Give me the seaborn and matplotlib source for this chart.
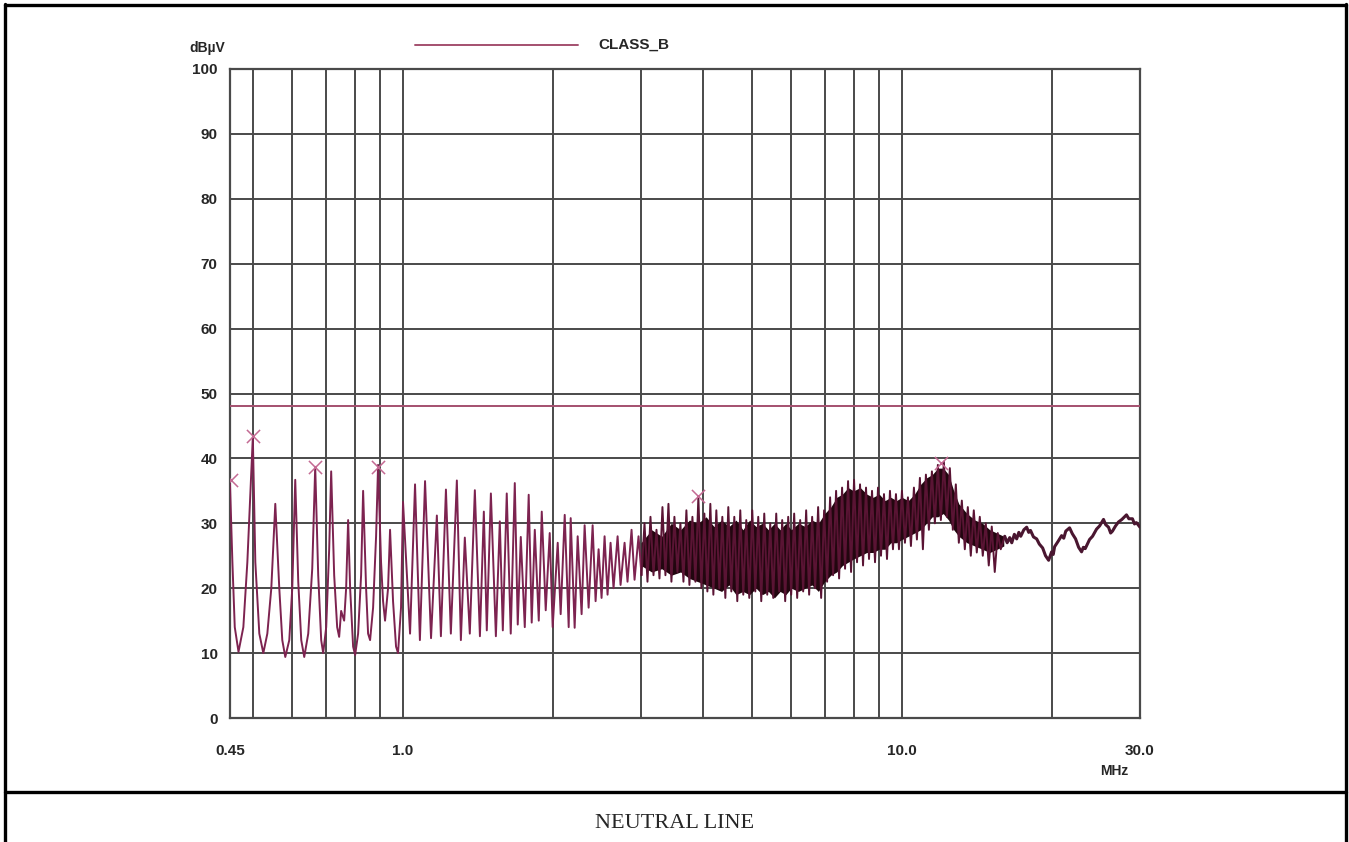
import matplotlib
matplotlib.use("Agg")
import matplotlib.pyplot as plt
from matplotlib.lines import Line2D
import pandas as pd
import seaborn as sns

# ── trace: 0.45 - 3 MHz (separate peaks) ───────────────────────────────────
freq_low = [0.450, 0.455, 0.460, 0.468, 0.4786, 0.4875, 0.500, 0.5058, 0.5152,
            0.5248, 0.5346, 0.5445, 0.5546, 0.5649, 0.5728, 0.5808, 0.5916,
            0.5998, 0.6081, 0.6166, 0.6252, 0.6339, 0.6457, 0.6577, 0.6668,
            0.6761, 0.6855, 0.6918, 0.7015, 0.7112, 0.7178, 0.7278, 0.7379,
            0.7447, 0.7516, 0.7621, 0.7691, 0.7762, 0.7834, 0.7943, 0.8017,
            0.8128, 0.8241, 0.8318, 0.8433, 0.8511, 0.8590, 0.8710, 0.8831,
            0.8913, 0.9036, 0.9120, 0.9204, 0.9333, 0.9419, 0.9550, 0.9683,
            0.9772, 0.9908, 1.000,
            1.033, 1.057, 1.081, 1.107, 1.138, 1.169, 1.191, 1.219, 1.247,
            1.282, 1.306, 1.330, 1.361, 1.393, 1.426, 1.452, 1.472, 1.500,
            1.535, 1.563, 1.585, 1.614, 1.644, 1.675, 1.698, 1.722, 1.754,
            1.786, 1.811, 1.837, 1.871, 1.897, 1.932, 1.968, 1.995, 2.042,
            2.070, 2.109, 2.148, 2.168, 2.208, 2.239, 2.280, 2.312, 2.355,
            2.399, 2.432, 2.466, 2.500, 2.535, 2.570, 2.606, 2.642, 2.692,
            2.729, 2.780, 2.818, 2.871, 2.911, 2.965, 3.006]
level_low = [36.0, 24.0, 14.0, 10.2, 14.0, 24.0, 43.3, 24.0, 13.0,
             10.0, 13.0, 20.0, 33.0, 20.0, 12.0, 9.4, 12.0,
             20.0, 36.7, 21.0, 12.0, 9.4, 13.0, 23.0, 38.7,
             22.0, 12.0, 10.0, 14.0, 26.0, 38.0, 22.0, 14.0,
             12.5, 16.5, 15.0, 20.0, 30.5, 20.0, 11.0, 9.7,
             13.0, 22.0, 35.0, 20.0, 13.0, 12.0, 17.0, 28.0,
             39.0, 24.0, 18.0, 15.0, 20.0, 29.0, 18.0, 11.0,
             10.0, 17.0, 33.3,
             13.0, 36.0, 12.0, 36.5, 12.3, 31.2, 12.6, 35.2, 13.0,
             36.6, 12.0, 27.8, 13.0, 35.1, 12.6, 31.8, 13.5, 34.6,
             12.6, 30.3, 13.5, 34.6, 13.0, 36.2, 14.4, 27.9, 14.0,
             34.4, 14.7, 29.0, 15.0, 31.8, 16.6, 28.5, 14.0, 27.0,
             16.0, 31.3, 14.0, 30.8, 13.9, 28.0, 16.0, 29.7, 17.0,
             29.7, 18.0, 26.0, 18.5, 28.0, 19.0, 27.0, 20.0, 28.0,
             20.5, 27.0, 21.0, 29.0, 21.3, 28.0, 22.0]

# ── 3 - 16 MHz (dense part, spikes) ─────────────────────────────────────────
freq_mid = [3.006, 3.048, 3.090, 3.133, 3.177, 3.221, 3.266, 3.311, 3.357, 3.404,
            3.451, 3.499, 3.548, 3.597, 3.648, 3.698, 3.750, 3.802, 3.855,
            3.908, 3.963, 4.018, 4.074, 4.130, 4.188, 4.246, 4.305, 4.365,
            4.426, 4.487, 4.550, 4.613, 4.677, 4.742, 4.808, 4.875, 4.943,
            5.012, 5.082, 5.152, 5.224, 5.297, 5.370, 5.445, 5.521, 5.598,
            5.675, 5.754, 5.834, 5.916, 5.998, 6.081, 6.166, 6.252, 6.339,
            6.427, 6.516, 6.607, 6.699, 6.792, 6.887, 6.982, 7.079, 7.178,
            7.278, 7.379, 7.482, 7.586, 7.691, 7.798, 7.907, 8.017, 8.128,
            8.241, 8.356, 8.472, 8.590, 8.710, 8.831, 8.954, 9.078, 9.204,
            9.333, 9.462, 9.594, 9.727, 9.863, 10.000, 10.139, 10.280, 10.423,
            10.568, 10.715, 10.864, 11.015, 11.169, 11.324, 11.482, 11.641,
            11.803, 11.967, 12.134, 12.303, 12.474, 12.647, 12.823, 13.002,
            13.183, 13.366, 13.552, 13.740, 13.932, 14.125, 14.322, 14.521,
            14.723, 14.928, 15.136, 15.346, 15.560, 15.776, 16.069]
level_mid = [22.0, 30.0, 21.0, 31.0, 22.0, 29.0, 21.5, 32.5, 22.0, 33.0,
             21.0, 31.0, 22.5, 30.0, 21.0, 32.0, 20.5, 31.0, 21.0,
             34.0, 20.0, 31.5, 19.5, 33.0, 19.0, 32.0, 20.0, 31.0,
             18.5, 32.5, 19.5, 31.0, 18.0, 32.0, 19.0, 30.5, 18.5,
             32.0, 19.5, 31.0, 18.0, 31.5, 19.0, 30.0, 18.5, 31.5,
             19.5, 30.5, 18.0, 31.0, 19.0, 31.5, 18.5, 30.5, 19.5,
             32.0, 19.0, 31.0, 20.0, 32.5, 18.5, 32.0, 21.0, 34.0,
             22.0, 35.0, 21.5, 35.5, 23.0, 36.5, 22.5, 36.7, 24.0,
             36.0, 23.5, 35.5, 24.5, 35.0, 24.0, 35.5, 25.0, 34.5,
             24.5, 35.0, 26.0, 34.5, 26.0, 35.0, 27.0, 34.0, 26.5,
             35.5, 27.5, 37.0, 26.0, 37.5, 29.0, 38.0, 30.0,
             39.0, 30.5, 39.5, 31.0, 38.5, 29.0, 36.0, 27.0,
             33.5, 26.0, 32.5, 25.0, 32.0, 25.5, 31.0, 25.0,
             30.0, 23.5, 29.5, 22.5, 28.5, 26.0, 28.0]

# ── 16 - 30 MHz (tail) ──────────────────────────────────────────────────────
freq_tail = [16.069, 16.25, 16.444, 16.6, 16.8, 16.982, 17.15, 17.3, 17.55,
             17.783, 17.95, 18.1, 18.35, 18.621, 18.85, 19.143, 19.4, 19.679,
             19.95, 20.1, 20.23, 20.55, 20.893, 21.1, 21.3, 21.677, 21.95,
             22.284, 22.6, 22.909, 23.1, 23.3, 23.768, 24.1, 24.547, 24.9,
             25.351, 25.6, 25.942, 26.2, 26.424, 26.8, 27.164, 27.6, 28.184,
             28.5, 28.973, 29.25, 29.512, 30.0]
level_tail = [28.0, 27.0, 27.8, 27.0, 28.3, 27.6, 28.6, 28.0, 29.0,
              29.4, 28.6, 28.9, 27.9, 27.6, 26.8, 26.2, 25.0, 24.3,
              25.6, 25.2, 26.4, 27.2, 28.1, 27.7, 28.8, 29.3, 28.4,
              27.6, 26.3, 25.6, 26.3, 26.1, 27.5, 28.0, 29.1, 29.6,
              30.6, 29.8, 29.4, 28.5, 28.8, 29.6, 30.2, 30.6, 31.3,
              30.7, 30.7, 29.9, 30.1, 29.4]

# dark core of the dense part
band_freq = [3.0, 3.15, 3.3, 3.45, 3.6, 3.75, 3.9, 4.05, 4.2, 4.35, 4.5,
             4.65, 4.8, 4.95, 5.1, 5.25, 5.4, 5.55, 5.7, 5.85, 6.0, 6.2,
             6.4, 6.6, 6.8, 7.0, 7.2, 7.4, 7.6, 7.8, 8.0, 8.25, 8.5, 8.75,
             9.0, 9.25, 9.5, 9.75, 10.0, 10.3, 10.6, 10.9, 11.2, 11.5, 11.8,
             12.1, 12.4, 12.7, 13.0, 13.5, 14.0, 14.5, 15.0, 15.5, 16.0]
band_top = [27.0, 29.0, 28.0, 30.0, 29.0, 30.5, 30.0, 31.0, 29.5, 30.5, 29.5,
            30.5, 29.0, 30.5, 29.5, 30.0, 29.0, 30.0, 29.0, 30.0, 29.0, 30.0,
            29.5, 30.5, 30.0, 31.5, 32.5, 34.0, 34.5, 35.5, 35.0, 35.5, 34.5,
            34.0, 34.5, 33.5, 34.0, 33.5, 34.0, 33.5, 34.5, 36.0, 37.0, 37.5,
            38.5, 38.5, 37.5, 35.0, 33.0, 31.5, 30.5, 30.0, 29.0, 28.5, 28.0]
band_bottom = [23.5, 22.5, 23.0, 22.0, 22.5, 21.5, 21.0, 20.5, 20.0, 19.5,
               20.5, 19.0, 19.5, 19.0, 20.0, 19.0, 19.5, 18.5, 19.5, 19.0,
               20.0, 19.5, 20.0, 20.5, 19.5, 21.0, 22.0, 22.5, 23.5, 24.0,
               24.5, 25.0, 25.5, 25.5, 26.0, 26.0, 27.0, 27.0, 27.5, 28.0,
               28.5, 29.0, 30.0, 31.0, 31.0, 31.5, 30.5, 29.0, 28.0, 27.0,
               26.5, 26.0, 25.5, 26.0, 26.5]

limit_freq = [0.45, 30.0]
limit_level = [48.0, 48.0]

peak_freq = [0.452, 0.500, 0.667, 0.891, 3.90, 11.95]
peak_level = [36.7, 43.4, 38.6, 38.6, 34.2, 39.3]

y_ticks = list(range(0, 101, 10))
x_ticks = [0.45, 1.0, 10.0, 30.0]
x_tick_labels = ["0.45", "1.0", "10.0", "30.0"]
grid_freqs = [0.5, 0.6, 0.7, 0.8, 0.9, 2, 3, 4, 5, 6, 7, 8, 9, 20]

TRACE = "#7d2350"
DENSE = "#5a1434"
CORE = "#22060f"
TAIL = "#4a1630"
LIMIT = "#a4506f"
MARK = "#c46a93"
GRID = "#4a4a4a"

sns.set_style("white")
plt.rcParams["font.family"] = ["Liberation Sans", "DejaVu Sans"]

low = pd.DataFrame({"freq": freq_low, "level": level_low})
mid = pd.DataFrame({"freq": freq_mid, "level": level_mid})
tail = pd.DataFrame({"freq": freq_tail, "level": level_tail})

fig = plt.figure(figsize=(13.49, 8.42), dpi=100)
ax = fig.add_axes([230 / 1349, 1 - 718 / 842, 910 / 1349, 649 / 842])
ax.set_xscale("log")

ax.fill_between(band_freq, band_bottom, band_top, color=CORE, lw=0, zorder=2)
sns.lineplot(data=low, x="freq", y="level", sort=False, estimator=None,
             color=TRACE, linewidth=1.4, ax=ax, zorder=3)
sns.lineplot(data=mid, x="freq", y="level", sort=False, estimator=None,
             color=DENSE, linewidth=1.4, ax=ax, zorder=3)
sns.lineplot(data=tail, x="freq", y="level", sort=False, estimator=None,
             color=TAIL, linewidth=2.2, ax=ax, zorder=3)
sns.lineplot(x=limit_freq, y=limit_level, color=LIMIT, linewidth=1.4,
             ax=ax, zorder=3)
sns.scatterplot(x=peak_freq, y=peak_level, marker="x", s=90, color=MARK,
                linewidth=1.1, ax=ax, zorder=4)

ax.set_xlim(0.45, 30)
ax.set_ylim(0, 100)
ax.set_xticks(x_ticks)
ax.set_xticklabels(x_tick_labels)
ax.set_xticks(grid_freqs, minor=True)
ax.set_xticklabels([], minor=True)
ax.set_yticks(y_ticks)
ax.set_yticklabels([str(v) for v in y_ticks])
ax.set_xlabel("")
ax.set_ylabel("")

ax.set_axisbelow(True)
ax.grid(True, which="both", color=GRID, linewidth=1.4)
ax.tick_params(axis="x", which="major", direction="out", length=8, width=1.4,
               color=GRID, pad=11, labelsize=11)
ax.tick_params(axis="x", which="minor", length=0)
ax.tick_params(axis="y", length=0, pad=9, labelsize=11)
for lab in ax.get_xticklabels() + ax.get_yticklabels():
    lab.set_fontweight("bold")
for sp in ax.spines.values():
    sp.set_color(GRID)
    sp.set_linewidth(1.6)

# units and legend
fig.text(207 / 1349, 1 - 48 / 842, "dBµV", ha="center", va="center",
         fontsize=10, fontweight="bold")
fig.text(1114 / 1349, 1 - 771 / 842, "MHz", ha="center", va="center",
         fontsize=10, fontweight="bold")
fig.add_artist(Line2D([415 / 1349, 578 / 1349], [1 - 45 / 842, 1 - 45 / 842],
                      color=LIMIT, linewidth=1.4))
fig.text(598 / 1349, 1 - 45 / 842, "CLASS_B", ha="left", va="center",
         fontsize=11, fontweight="bold")

# page frame and caption
frame_kw = dict(color="black", linewidth=2.4)
fig.add_artist(Line2D([5 / 1349, 5 / 1349], [0, 1 - 4 / 842], **frame_kw))
fig.add_artist(Line2D([1346 / 1349, 1346 / 1349], [0, 1 - 4 / 842], **frame_kw))
fig.add_artist(Line2D([5 / 1349, 1346 / 1349], [1 - 5 / 842, 1 - 5 / 842], **frame_kw))
fig.add_artist(Line2D([5 / 1349, 1346 / 1349], [1 - 792 / 842, 1 - 792 / 842], **frame_kw))
fig.text(0.5, 1 - 823 / 842, "NEUTRAL LINE", ha="center", va="center",
         fontsize=16, family=["Liberation Serif", "DejaVu Serif"])

fig.savefig("out.png", dpi=100)
plt.close(fig)
